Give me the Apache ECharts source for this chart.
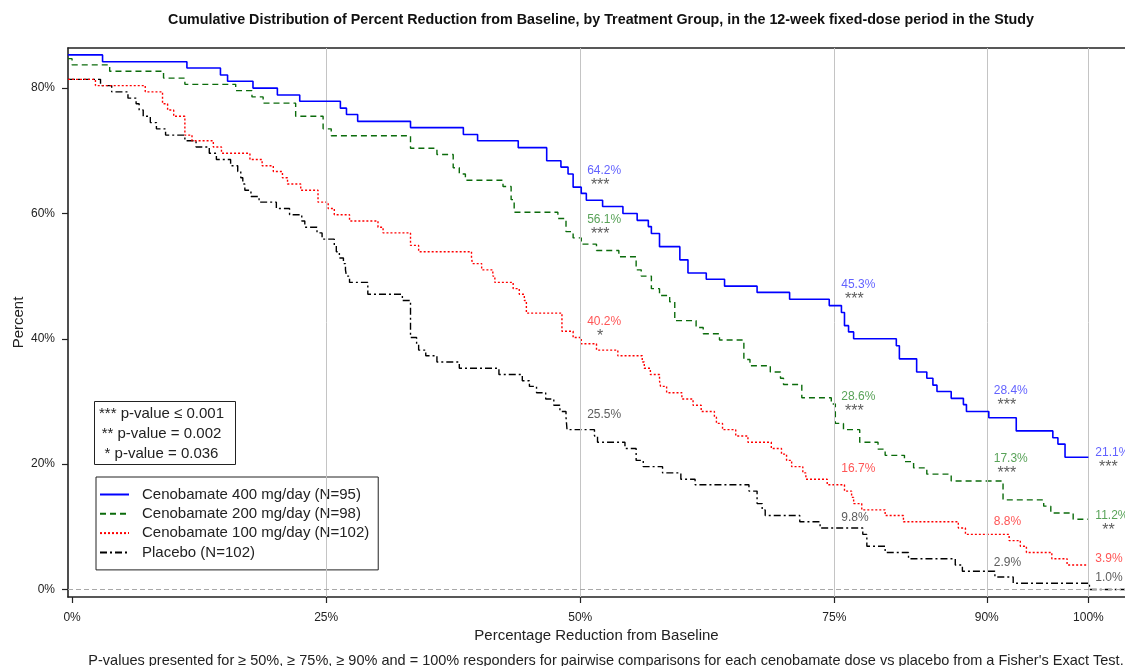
<!DOCTYPE html>
<html>
<head>
<meta charset="utf-8">
<script src="https://cdn.jsdelivr.net/npm/echarts@6/dist/echarts.min.js"></script>
<style>
html,body{margin:0;padding:0;background:#fff;}
#chart{width:1125px;height:666px;}
</style>
</head>
<body>
<div id="chart"></div>
<script>
// ---------------- DATA ----------------
// Step curves: each level starts at the given % reduction (x) and holds until the next one.
const x400 = [-0.4, 3.0, 11.3, 14.6, 15.3, 17.8, 20.2, 22.4, 26.4, 27.0, 28.1, 33.3, 38.5, 39.9, 43.9, 46.7, 48.1, 48.8, 49.3, 50.1, 50.6, 52.2, 54.2, 55.6, 56.7, 57.0, 57.8, 59.8, 60.6, 62.4, 64.2, 67.4, 70.6, 74.5, 75.7, 76.0, 76.4, 76.9, 81.1, 81.4, 83.1, 84.1, 84.7, 85.1, 86.5, 87.7, 88.0, 90.2, 92.9, 96.5, 97.0, 97.7];
const y400 = [85.3, 84.2, 83.2, 82.1, 81.1, 80.0, 78.9, 77.9, 76.8, 75.8, 74.7, 73.7, 72.6, 71.6, 70.5, 68.4, 67.4, 66.3, 64.2, 63.2, 62.1, 61.1, 60.0, 58.9, 57.9, 56.8, 54.7, 52.6, 50.5, 49.5, 48.4, 47.4, 46.3, 45.3, 44.2, 42.1, 41.1, 40.0, 38.9, 36.8, 34.7, 33.7, 32.6, 31.6, 30.5, 29.5, 28.4, 27.4, 25.3, 24.2, 23.2, 21.1];

const x200 = [-0.4, 0.0, 3.7, 9.0, 11.1, 16.1, 17.7, 18.8, 22.0, 24.7, 25.5, 33.3, 35.9, 37.5, 38.1, 38.7, 42.4, 43.2, 43.5, 47.8, 48.6, 49.3, 50.1, 51.6, 53.8, 55.5, 56.0, 57.0, 57.8, 58.8, 59.3, 61.4, 62.1, 63.7, 66.1, 66.7, 68.7, 69.7, 70.0, 71.8, 74.7, 75.1, 75.9, 77.5, 79.3, 80.0, 81.9, 82.8, 84.1, 86.5, 91.6, 95.6, 96.3, 98.5];
const y200 = [84.7, 83.7, 82.7, 81.6, 80.6, 79.6, 78.6, 77.6, 75.5, 73.5, 72.4, 70.4, 69.4, 67.3, 66.3, 65.3, 64.3, 62.2, 60.2, 59.2, 57.1, 56.1, 55.1, 54.1, 53.1, 51.0, 50.0, 48.0, 46.9, 45.9, 42.9, 41.8, 40.8, 39.8, 36.7, 35.7, 34.7, 33.7, 32.7, 30.6, 29.6, 26.5, 25.5, 23.5, 22.4, 21.4, 20.4, 19.4, 18.4, 17.3, 14.3, 13.3, 12.2, 11.2];

const x100 = [-0.4, 2.3, 7.2, 8.9, 9.4, 10.0, 11.1, 11.8, 13.9, 14.7, 17.5, 18.7, 19.8, 20.7, 21.2, 22.5, 24.2, 25.2, 25.8, 27.3, 30.1, 30.6, 33.3, 34.1, 39.3, 39.4, 40.3, 41.4, 41.6, 43.4, 44.0, 44.5, 44.7, 48.2, 49.3, 50.1, 51.6, 53.7, 56.1, 56.3, 56.9, 57.8, 57.9, 58.5, 60.0, 61.1, 61.9, 63.2, 63.4, 64.0, 65.3, 66.5, 68.8, 69.8, 70.3, 70.8, 71.9, 72.2, 74.3, 76.0, 76.7, 76.9, 77.7, 80.0, 81.8, 87.2, 87.9, 92.2, 93.3, 93.9, 96.4, 97.9];
const y100 = [81.4, 80.4, 79.4, 77.5, 76.5, 75.5, 72.5, 71.6, 70.6, 69.6, 68.6, 67.6, 66.7, 65.7, 64.7, 63.7, 61.8, 60.8, 59.8, 58.8, 57.8, 56.9, 54.9, 53.9, 52.9, 52.0, 51.0, 50.0, 49.0, 48.0, 47.1, 46.1, 44.1, 41.2, 40.2, 39.2, 38.2, 37.3, 36.3, 35.3, 34.3, 33.3, 32.4, 31.4, 30.4, 29.4, 28.4, 27.5, 26.5, 25.5, 24.5, 23.5, 22.5, 21.6, 20.6, 19.6, 18.6, 17.6, 16.7, 15.7, 14.7, 13.7, 12.7, 11.8, 10.8, 9.8, 8.8, 7.8, 6.9, 5.9, 4.9, 3.9];

const xPbo = [-0.4, 2.8, 3.9, 5.5, 6.3, 6.6, 7.0, 7.7, 8.3, 9.2, 11.1, 12.2, 13.5, 14.2, 15.6, 16.3, 16.6, 16.8, 17.0, 17.6, 18.4, 20.1, 21.4, 22.6, 22.9, 24.1, 24.6, 25.8, 26.0, 26.3, 26.7, 26.9, 27.0, 27.3, 29.1, 32.5, 33.3, 33.9, 34.1, 34.8, 35.9, 38.1, 42.0, 44.3, 45.0, 45.7, 46.6, 47.4, 48.0, 48.6, 48.7, 51.4, 51.7, 54.4, 55.5, 56.2, 58.1, 59.9, 61.3, 66.6, 67.4, 67.9, 68.2, 71.6, 73.6, 77.8, 78.2, 80.0, 82.3, 86.9, 87.6, 90.8, 92.6, 100.1];
const yPbo = [81.4, 80.4, 79.4, 78.4, 77.5, 76.5, 75.5, 74.5, 73.5, 72.5, 71.6, 70.6, 69.6, 68.6, 67.6, 66.7, 65.7, 64.7, 63.7, 62.7, 61.8, 60.8, 59.8, 58.8, 57.8, 56.9, 55.9, 54.9, 53.9, 52.9, 52.0, 51.0, 50.0, 49.0, 47.1, 46.1, 40.2, 39.2, 38.2, 37.3, 36.3, 35.3, 34.3, 33.3, 32.4, 31.4, 30.4, 29.4, 28.4, 27.5, 25.5, 24.5, 23.5, 22.5, 20.6, 19.6, 18.6, 17.6, 16.7, 15.7, 13.7, 12.7, 11.8, 10.8, 9.8, 8.8, 6.9, 5.9, 4.9, 3.9, 2.9, 2.0, 1.0, 0.0];

// Curve end points on the x axis (% reduction)
const end400 = 100, end200 = 100, end100 = 100, endPbo = 103.6;

// Responder thresholds and annotated responder rates
const thresholds = [50, 75, 90, 100];
const resp400 = [64.2, 45.3, 28.4, 21.1];
const resp200 = [56.1, 28.6, 17.3, 11.2];
const resp100 = [40.2, 16.7, 8.8, 3.9];
const respPbo = [25.5, 9.8, 2.9, 1.0];
const stars400 = ['***', '***', '***', '***'];
const stars200 = ['***', '***', '***', '**'];
const stars100 = ['*', '', '', ''];
const starsPbo = ['', '', '', ''];

const seriesNames = ['Cenobamate 400 mg/day (N=95)', 'Cenobamate 200 mg/day (N=98)', 'Cenobamate 100 mg/day (N=102)', 'Placebo (N=102)'];
const xTicks = [0, 25, 50, 75, 90, 100];
const yTicks = [0, 20, 40, 60, 80];
const pvalueLines = ['*** p-value \u2264 0.001', '** p-value = 0.002', '* p-value = 0.036'];
const titleText = 'Cumulative Distribution of Percent Reduction from Baseline, by Treatment Group, in the 12-week fixed-dose period in the Study';
const footText = 'P-values presented for \u2265 50%, \u2265 75%, \u2265 90% and = 100% responders for pairwise comparisons for each cenobamate dose vs placebo from a Fisher\'s Exact Test.';

// ---------------- LAYOUT / STYLE ----------------
const FONT = '"Liberation Sans", Arial, sans-serif';
const lineColors = ['#0000ff', '#0b6b0b', '#ff0000', '#000000'];
const textColors = ['#3a3aff', '#2e8b2e', '#ff2a2a', '#333333'];
const dashes = ['solid', [6, 4], [2, 2], [7, 3, 2, 3]];
const widths = [1.6, 1.4, 1.4, 1.4];
// vertical pixel offsets of each annotation (text centre relative to its value)
const labelDy = [
  [-16, -21, -21, -5],
  [-18, -14, -22, -4],
  [-16, -16, -13, -6],
  [-15, -10, -9, -5]
];

function steps(xs, ys, endX) {
  const d = xs.map((x, i) => [x, ys[i]]);
  d.push([endX, ys[ys.length - 1]]);
  return d;
}

const curves = [
  steps(x400, y400, end400),
  steps(x200, y200, end200),
  steps(x100, y100, end100),
  steps(xPbo, yPbo, endPbo)
];
const resps = [resp400, resp200, resp100, respPbo];
const stars = [stars400, stars200, stars100, starsPbo];

const series = [];
// grid lines
series.push({
  type: 'line', name: 'grid', data: [], z: 1, silent: true,
  markLine: {
    silent: true, symbol: 'none', animation: false, label: { show: false },
    lineStyle: { color: '#c4c4c4', width: 1, type: 'solid' },
    data: xTicks.filter(v => v > 0).map(v => ({ xAxis: v }))
      .concat([{ yAxis: 0, lineStyle: { color: '#a8a8a8', type: [5, 3], width: 1 } }])
  }
});
curves.forEach((c, k) => {
  series.push({
    type: 'line', name: seriesNames[k], data: c, step: 'end',
    symbol: 'none', showSymbol: false, z: 5 - k, animation: false,
    lineStyle: { color: lineColors[k], width: widths[k], type: dashes[k] },
    itemStyle: { color: lineColors[k] }
  });
});
const starRich = {};
[1, 2, 3].forEach(n => {
  starRich['s' + n] = { fontSize: 16, lineHeight: 17, color: '#333', fontFamily: FONT, padding: [0, 0, 0, Math.max(0, 13 - n * 3.1)] };
});
resps.forEach((r, k) => {
  const rich = Object.assign({ v: { fontSize: 12, lineHeight: 13, color: textColors[k], fontFamily: FONT } }, starRich);
  series.push({
    type: 'scatter', name: 'ann' + k, symbolSize: 0.1, z: 10, animation: false, silent: true,
    itemStyle: { color: 'rgba(0,0,0,0)' },
    data: thresholds.map((t, i) => ({
      value: [t, r[i]],
      label: {
        show: true, position: [7, labelDy[k][i] - 6.5], align: 'left', verticalAlign: 'top',
        formatter: stars[k][i]
          ? '{v|' + r[i].toFixed(1) + '%}\n{s' + stars[k][i].length + '|' + stars[k][i] + '}'
          : '{v|' + r[i].toFixed(1) + '%}',
        rich: rich
      }
    }))
  });
});

const chart = echarts.init(document.getElementById('chart'), null, { renderer: 'canvas' });
chart.setOption({
  animation: false,
  backgroundColor: '#fff',
  textStyle: { fontFamily: FONT },
  grid: { left: 68, right: 0, top: 48, bottom: 69, containLabel: false, outerBoundsMode: 'none' },
  legend: {
    data: seriesNames, orient: 'vertical', left: 96, top: 477,
    backgroundColor: '#fff', borderColor: '#222', borderWidth: 1,
    padding: [10, 9, 10, 3], itemWidth: 29, itemHeight: 14, itemGap: 4.3,
    itemStyle: { opacity: 0 },
    textStyle: { fontSize: 15, color: '#222', fontFamily: FONT, padding: [0, 0, 0, 8] },
    selectedMode: false
  },
  xAxis: [{
    type: 'value', min: -0.4, max: 103.6, position: 'bottom',
    axisLine: { show: true, onZero: false, lineStyle: { color: '#222', width: 1.6 } },
    axisTick: { show: true, length: 6, customValues: xTicks, lineStyle: { color: '#222', width: 1.2 } },
    axisLabel: { customValues: xTicks, formatter: '{value}%', margin: 15, fontSize: 12, color: '#222' },
    splitLine: { show: false },
    name: 'Percentage Reduction from Baseline', nameLocation: 'middle', nameGap: 31, nameMoveOverlap: false,
    nameTextStyle: { fontSize: 15, color: '#222' }
  }, {
    type: 'value', min: -0.4, max: 103.6, position: 'top',
    axisLine: { show: true, onZero: false, lineStyle: { color: '#222', width: 1.6 } },
    axisTick: { show: false }, axisLabel: { show: false }, splitLine: { show: false }
  }],
  yAxis: {
    type: 'value', min: -1.2, max: 86.4,
    axisLine: { show: true, onZero: false, lineStyle: { color: '#222', width: 1.6 } },
    axisTick: { show: true, length: 6, customValues: yTicks, lineStyle: { color: '#222', width: 1.2 } },
    axisLabel: { customValues: yTicks, formatter: '{value}%', margin: 13, fontSize: 12, color: '#222' },
    splitLine: { show: false },
    name: 'Percent', nameLocation: 'middle', nameGap: 42, nameMoveOverlap: false,
    nameTextStyle: { fontSize: 15, color: '#222' }
  },
  graphic: [
    { type: 'text', x: 601, y: 20, style: { text: titleText, font: 'bold 14.3px ' + FONT, fill: '#111', textAlign: 'center', textVerticalAlign: 'middle' } },
    { type: 'text', x: 606, y: 661, style: { text: footText, font: '14.5px ' + FONT, fill: '#222', textAlign: 'center', textVerticalAlign: 'middle' } },
    {
      type: 'group', left: 94, top: 401, z: 20,
      children: [
        { type: 'rect', shape: { x: 0, y: 0, width: 141, height: 63 }, style: { fill: '#fff', stroke: '#222', lineWidth: 1 } }
      ].concat(pvalueLines.map((t, i) => ({
        type: 'text', x: 67, y: 12 + i * 20,
        style: { text: t, font: '15px ' + FONT, fill: '#222', textAlign: 'center', textVerticalAlign: 'middle' }
      })))
    }
  ],
  series: series
});
</script>
</body>
</html>
